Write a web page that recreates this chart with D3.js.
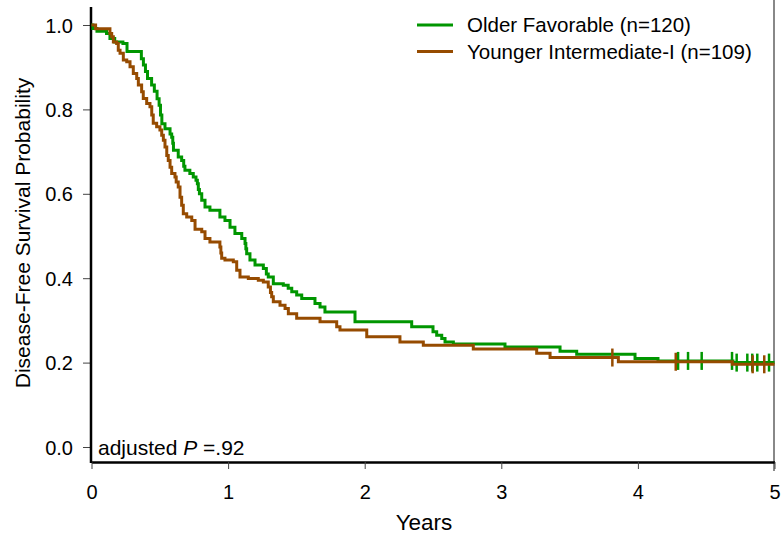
<!DOCTYPE html>
<html>
<head>
<meta charset="utf-8">
<script src="https://cdn.jsdelivr.net/npm/d3@7"></script>
<style>
  body { margin: 0; background: #fff; }
  text { font-family: Arial, "Liberation Sans", sans-serif; }
</style>
</head>
<body>
<div id="chart"></div>
<script>
// Older Favorable: event times (years) and survival after each step
var greenTimes = [0, 0.01, 0.04, 0.11, 0.135, 0.17, 0.23, 0.26, 0.365, 0.38, 0.395, 0.41, 0.44, 0.46, 0.48, 0.495,
  0.505, 0.515, 0.538, 0.575, 0.587, 0.595, 0.6, 0.635, 0.66, 0.675, 0.684, 0.72, 0.745, 0.765, 0.775, 0.782, 0.79,
  0.807, 0.831, 0.867, 0.94, 0.977, 1.014, 1.05, 1.1, 1.124, 1.13, 1.136, 1.16, 1.197, 1.258, 1.28, 1.294, 1.331,
  1.404, 1.44, 1.466, 1.502, 1.539, 1.636, 1.673, 1.709, 1.929, 2.344, 2.5, 2.527, 2.564, 2.588, 2.649, 3.027,
  3.43, 3.552, 3.979, 4.147, 4.696];
var greenSurv = [1, 0.992, 0.985, 0.98, 0.968, 0.96, 0.956, 0.937, 0.92, 0.905, 0.89, 0.873, 0.858, 0.843, 0.825, 0.81,
  0.787, 0.766, 0.754, 0.742, 0.734, 0.72, 0.703, 0.687, 0.679, 0.665, 0.656, 0.648, 0.64, 0.632, 0.624, 0.61, 0.6,
  0.585, 0.569, 0.561, 0.545, 0.537, 0.521, 0.506, 0.494, 0.482, 0.47, 0.458, 0.443, 0.431, 0.423, 0.41, 0.403, 0.387,
  0.383, 0.376, 0.368, 0.36, 0.352, 0.34, 0.332, 0.32, 0.297, 0.285, 0.273, 0.265, 0.257, 0.249, 0.244, 0.237,
  0.227, 0.22, 0.21, 0.204, 0.2];
var greenCensor = [4.294, 4.367, 4.467, 4.689, 4.723, 4.801, 4.837, 4.874, 4.96];

// Younger Intermediate-I
var brownTimes = [0, 0.03, 0.135, 0.148, 0.16, 0.184, 0.196, 0.209, 0.233, 0.258, 0.282, 0.306, 0.331, 0.343, 0.367,
  0.379, 0.404, 0.428, 0.441, 0.452, 0.477, 0.501, 0.514, 0.526, 0.538, 0.551, 0.562, 0.575, 0.587, 0.611, 0.62,
  0.635, 0.648, 0.66, 0.672, 0.697, 0.734, 0.758, 0.807, 0.831, 0.867, 0.94, 0.947, 0.953, 0.977, 1.038, 1.063,
  1.087, 1.148, 1.221, 1.258, 1.294, 1.31, 1.319, 1.331, 1.38, 1.417, 1.441, 1.502, 1.673, 1.795, 1.819, 2.015,
  2.258, 2.429, 2.795, 3.259, 3.357, 3.857, 4.691];
var brownSurv = [1, 0.991, 0.98, 0.972, 0.96, 0.956, 0.94, 0.933, 0.917, 0.913, 0.901, 0.885, 0.873, 0.858, 0.842,
  0.826, 0.814, 0.806, 0.787, 0.767, 0.759, 0.751, 0.739, 0.727, 0.711, 0.691, 0.679, 0.663, 0.648, 0.64, 0.628,
  0.616, 0.592, 0.573, 0.553, 0.545, 0.537, 0.516, 0.51, 0.494, 0.486, 0.474, 0.46, 0.447, 0.443, 0.439, 0.419,
  0.403, 0.399, 0.395, 0.391, 0.379, 0.366, 0.356, 0.344, 0.336, 0.328, 0.316, 0.305, 0.297, 0.285, 0.277, 0.261,
  0.249, 0.241, 0.232, 0.222, 0.212, 0.202, 0.196];
var brownCensor = [3.813, 4.277, 4.84, 4.925];

var xTicks = [0, 1, 2, 3, 4, 5];
var yTicks = [0, 0.2, 0.4, 0.6, 0.8, 1.0];
var legendLabels = ["Older Favorable (n=120)", "Younger Intermediate-I (n=109)"];

var green = "#009600", brown = "#964b00";
var W = 781, H = 539;

var svg = d3.select("#chart").append("svg").attr("width", W).attr("height", H);

var x = d3.scaleLinear().domain([0, 5]).range([91.5, 774.5]);
var y = d3.scaleLinear().domain([0, 1]).range([447, 25]);

function series(times, surv) {
    var pts = times.map(function (t, i) { return [t, surv[i]]; });
    pts.push([5, surv[surv.length - 1]]);
    return pts;
}
function survAt(times, surv, t) {
    var i = d3.bisectRight(times, t) - 1;
    return surv[Math.max(i, 0)];
}

// right grey border
svg.append("line").attr("x1", 774).attr("x2", 774).attr("y1", 0).attr("y2", 471)
    .attr("stroke", "#888").attr("stroke-width", 2);

// axes
var xAxis = svg.append("g").attr("transform", "translate(0,462)")
    .call(d3.axisBottom(x).tickValues(xTicks).tickFormat(d3.format("d")).tickSize(7).tickSizeOuter(0));
xAxis.select(".domain").attr("stroke", "#000").attr("stroke-width", 2.5);
xAxis.selectAll(".tick line").attr("stroke", "#444");
xAxis.selectAll(".tick text").attr("font-size", 20).attr("dy", "1.35em").attr("fill", "#000");

var yAxis = svg.append("g").attr("transform", "translate(91,0)")
    .call(d3.axisLeft(y).tickValues(yTicks).tickFormat(d3.format(".1f")).tickSize(8).tickSizeOuter(0));
yAxis.select(".domain").remove();
yAxis.selectAll(".tick line").attr("stroke", "#444");
yAxis.selectAll(".tick text").attr("font-size", 20).attr("x", -18).attr("dy", "0.35em").attr("fill", "#000");
svg.append("line").attr("x1", 91).attr("x2", 91).attr("y1", 7).attr("y2", 463)
    .attr("stroke", "#000").attr("stroke-width", 2.5);

var line = d3.line()
    .x(function (d) { return x(d[0]); })
    .y(function (d) { return y(d[1]); })
    .curve(d3.curveStepAfter);

function drawGroup(times, surv, censor, color) {
    svg.append("path").datum(series(times, surv))
        .attr("fill", "none").attr("stroke", color).attr("stroke-width", 3)
        .attr("d", line);
    svg.append("g").selectAll("line").data(censor).enter().append("line")
        .attr("x1", function (d) { return x(d); })
        .attr("x2", function (d) { return x(d); })
        .attr("y1", function (d) { return y(survAt(times, surv, d)) - 9; })
        .attr("y2", function (d) { return y(survAt(times, surv, d)) + 9; })
        .attr("stroke", color).attr("stroke-width", 2.5);
}
drawGroup(greenTimes, greenSurv, greenCensor, green);
drawGroup(brownTimes, brownSurv, brownCensor, brown);

// legend
var legend = svg.append("g");
[green, brown].forEach(function (c, i) {
    var ly = 25 + i * 26.5;
    legend.append("line").attr("x1", 417).attr("x2", 453).attr("y1", ly).attr("y2", ly)
        .attr("stroke", c).attr("stroke-width", 3);
    legend.append("text").attr("x", 467).attr("y", ly).attr("dy", "0.36em")
        .attr("font-size", 20.5).text(legendLabels[i]);
});

// annotation
var ann = svg.append("text").attr("x", 98).attr("y", 447).attr("dy", "0.36em").attr("font-size", 21);
ann.append("tspan").text("adjusted ");
ann.append("tspan").attr("font-style", "italic").text("P");
ann.append("tspan").text(" =.92");

// axis titles
svg.append("text").attr("x", 424).attr("y", 530).attr("text-anchor", "middle")
    .attr("font-size", 22.5).text("Years");
svg.append("text").attr("transform", "translate(30,233) rotate(-90)").attr("text-anchor", "middle")
    .attr("font-size", 21).text("Disease-Free Survival Probability");
</script>
</body>
</html>
